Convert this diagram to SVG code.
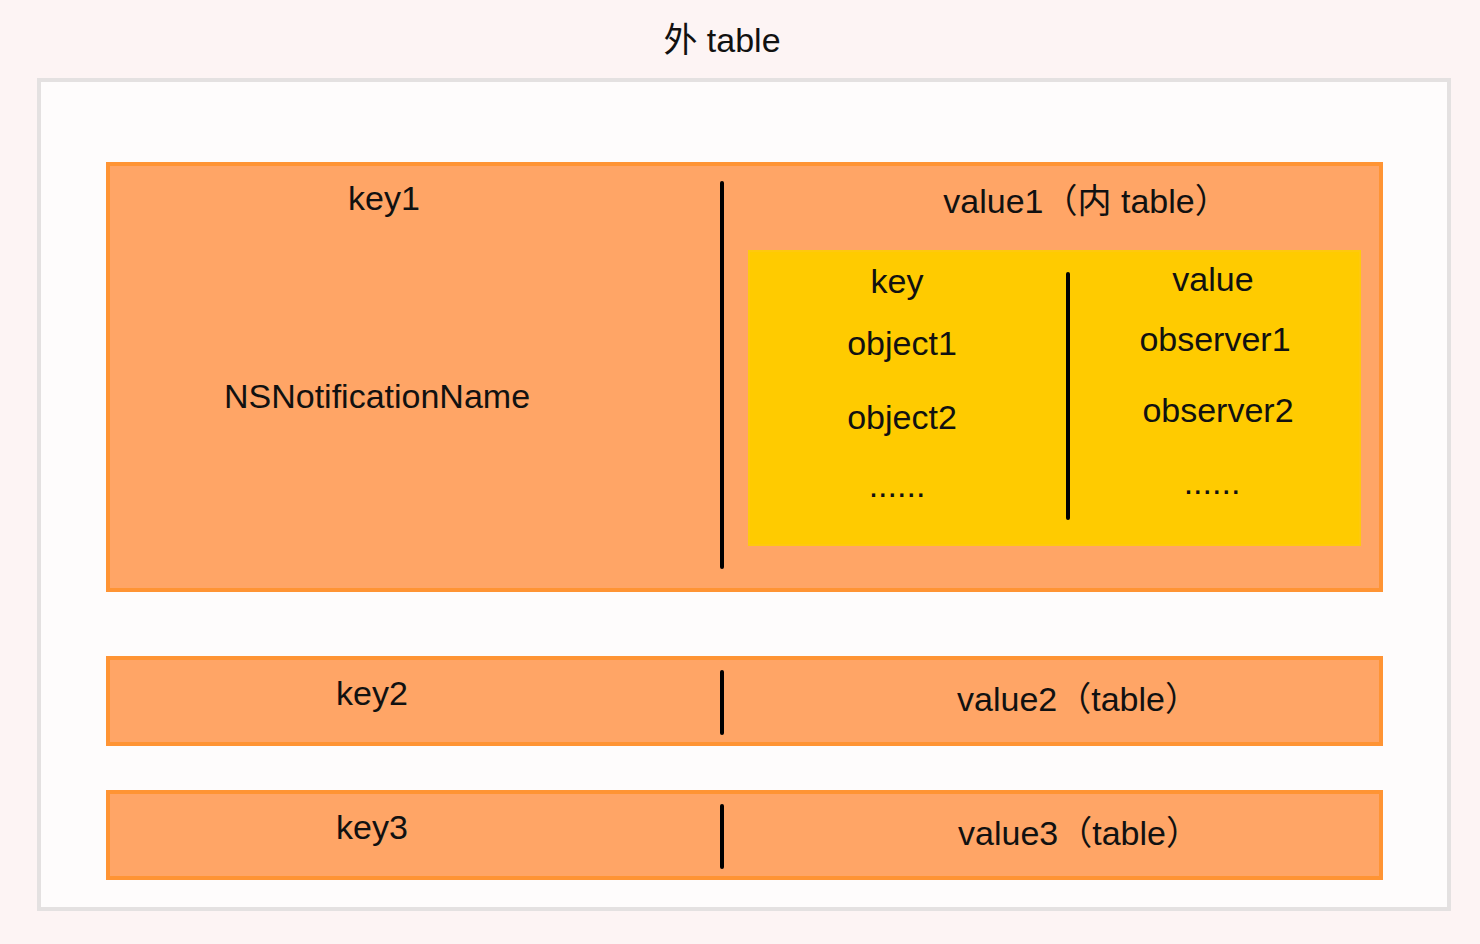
<svg xmlns="http://www.w3.org/2000/svg" width="1480" height="944" viewBox="0 0 1480 944">
<style>
.t{font-family:"Liberation Sans","Noto Sans CJK SC",sans-serif;font-size:34px;fill:#111;text-anchor:middle}
.row{fill:#ffa566;stroke:#ff9434;stroke-width:4}
.div{stroke:#000;stroke-width:4;stroke-linecap:round;fill:none}
</style>
<rect width="1480" height="944" fill="#fdf4f4"/>
<g id="outer">
<rect x="39" y="80" width="1410" height="829" fill="#fefcfc" stroke="#e4e1e1" stroke-width="4"/>
<text class="t" x="722" y="52" font-size="30">外 table</text>
</g>
<g id="row1">
<rect class="row" x="108" y="164" width="1273" height="426"/>
<text class="t" x="384" y="210">key1</text>
<text class="t" x="377" y="408">NSNotificationName</text>
<text class="t" x="1086" y="213">value1（内 table）</text>
</g>
<g id="inner">
<rect x="749" y="251" width="611" height="294" fill="#ffcb00" stroke="#ffc90d" stroke-width="2"/>
<text class="t" x="897" y="293">key</text>
<text class="t" x="902" y="355">object1</text>
<text class="t" x="902" y="429">object2</text>
<text class="t" x="897" y="497">......</text>
<text class="t" x="1213" y="291">value</text>
<text class="t" x="1215" y="351">observer1</text>
<text class="t" x="1218" y="422">observer2</text>
<text class="t" x="1212" y="494">......</text>
</g>
<g id="row2">
<rect class="row" x="108" y="658" width="1273" height="86"/>
<text class="t" x="372" y="705">key2</text>
<text class="t" x="1078" y="711">value2（table）</text>
</g>
<g id="row3">
<rect class="row" x="108" y="792" width="1273" height="86"/>
<text class="t" x="372" y="839">key3</text>
<text class="t" x="1079" y="845">value3（table）</text>
</g>
<g id="connectors">
<line class="div" x1="722" y1="183" x2="722" y2="567"/>
<line class="div" x1="1068" y1="274" x2="1068" y2="518"/>
<line class="div" x1="722" y1="672" x2="722" y2="733"/>
<line class="div" x1="722" y1="806" x2="722" y2="867"/>
</g>
</svg>
